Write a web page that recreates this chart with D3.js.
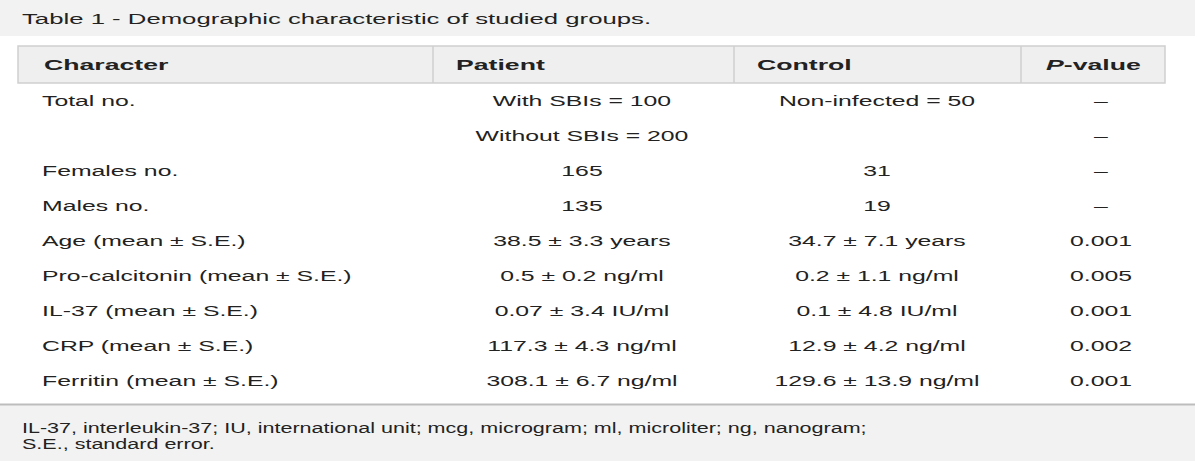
<!DOCTYPE html>
<html><head><meta charset="utf-8">
<script src="https://cdn.jsdelivr.net/npm/d3@7"></script>
<style>body{margin:0;background:#fff}svg{display:block}text{font-family:"Liberation Sans",Arial,sans-serif;font-size:15.5px;fill:#222}</style>
</head><body><svg id="c" width="1200" height="461"></svg>
<script>
const title="Table 1 - Demographic characteristic of studied groups.";
const headers=["Character","Patient","Control","P-value"];
const characters=["Total no.","","Females no.","Males no.","Age (mean ± S.E.)","Pro-calcitonin (mean ± S.E.)","IL-37 (mean ± S.E.)","CRP (mean ± S.E.)","Ferritin (mean ± S.E.)"];
const patient=["With SBIs = 100","Without SBIs = 200","165","135","38.5 ± 3.3 years","0.5 ± 0.2 ng/ml","0.07 ± 3.4 IU/ml","117.3 ± 4.3 ng/ml","308.1 ± 6.7 ng/ml"];
const control=["Non-infected = 50","","31","19","34.7 ± 7.1 years","0.2 ± 1.1 ng/ml","0.1 ± 4.8 IU/ml","12.9 ± 4.2 ng/ml","129.6 ± 13.9 ng/ml"];
const pvalue=["–","–","–","–","0.001","0.005","0.001","0.002","0.001"];
const footnote=["IL-37, interleukin-37; IU, international unit; mcg, microgram; ml, microliter; ng, nanogram;","S.E., standard error."];

const svg=d3.select("#c");
function txt(parent,x,y,s,str,anchor){
  return parent.append("text").attr("transform",`translate(${x},${y}) scale(${s},1)`).attr("text-anchor",anchor||"start").text(str);
}
svg.append("rect").attr("x",0).attr("y",0).attr("width",1195).attr("height",36).attr("fill","#f2f2f2");
txt(svg,22,24,1.66,title);
const colX=[18,433,734,1021,1165];
svg.append("rect").attr("x",18).attr("y",46).attr("width",1147).attr("height",37).attr("fill","#efefef").attr("stroke","#cfcfcf").attr("stroke-width",1.5);
colX.slice(1,4).forEach(x=>svg.append("line").attr("x1",x).attr("x2",x).attr("y1",46).attr("y2",83).attr("stroke","#cfcfcf").attr("stroke-width",1.5));
const hx=[44,456,757,1046];
headers.forEach((h,i)=>{
  const t=svg.append("text").attr("transform",`translate(${hx[i]},70) scale(1.72,1)`).style("font-weight","bold");
  if(h==="P-value"){t.append("tspan").style("font-style","italic").text("P");t.append("tspan").text("-value");}
  else t.text(h);
});
const y=d3.scaleBand().domain(d3.range(characters.length)).range([82.5,397.5]);
const rows=svg.selectAll("g.r").data(characters.map((c,i)=>({c,p:patient[i],k:control[i],v:pvalue[i],i}))).join("g").attr("transform",d=>`translate(0,${y(d.i)+y.bandwidth()/2+5.5})`);
rows.each(function(d){
  const g=d3.select(this);
  txt(g,42,0,1.6,d.c);
  txt(g,582,0,1.6,d.p,"middle");
  txt(g,877,0,1.6,d.k,"middle");
  txt(g,1101,0,1.6,d.v,"middle");
});
svg.append("rect").attr("x",0).attr("y",405).attr("width",1195).attr("height",56).attr("fill","#f2f2f2");
svg.append("line").attr("x1",0).attr("x2",1195).attr("y1",404.5).attr("y2",404.5).attr("stroke","#bdbdbd").attr("stroke-width",2);
footnote.forEach((f,i)=>txt(svg,22,433+i*15.5,1.39,f));
</script></body></html>
